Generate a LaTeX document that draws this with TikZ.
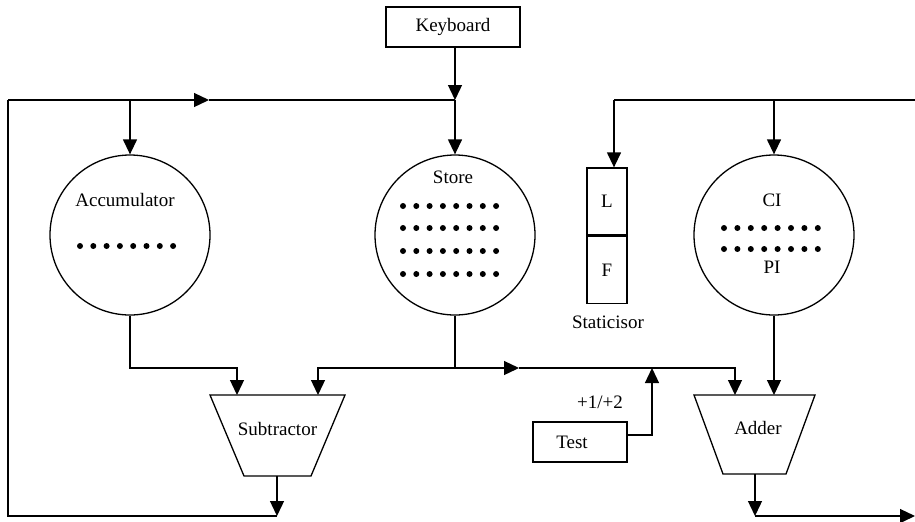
\documentclass[tikz,border=0pt]{standalone}
\usepackage{fontspec}
\setmainfont{Liberation Serif}
\usetikzlibrary{shapes.geometric}
\usetikzlibrary{arrows.meta}
\usetikzlibrary{positioning}

\begin{document}
\begin{tikzpicture}[x=0.5pt,y=-0.5pt,>={Triangle[length=7.5pt,width=7pt]},
	line width=0.65pt,font=\fontsize{9.5}{11}\selectfont,
	unit node/.style={circle,draw,minimum size=80pt,inner sep=0pt},
	box node/.style={rectangle,draw,inner sep=0pt}]
	
	\useasboundingbox (0,0) rectangle (915,521);
	
	% units
	\node[box node,minimum width=67pt,minimum height=20pt] (kbd) at (453,27) {Keyboard};
	\node[unit node] (acc) at (130,235) {};
	\node[unit node] (sto) at (455,235) {};
	\node[unit node] (ci) at (774,235) {};
	\node[box node,minimum width=20pt,minimum height=33.5pt] (statL) at (607,201.5) {L};
	\node[box node,minimum width=20pt,minimum height=33.5pt] (statF) [below=0pt of statL] {F};
	\node[box node,minimum width=47pt,minimum height=20pt] (test) at (580,442) {\hspace*{-8pt}Test};
	
	% subtractor and adder
	\draw (210,395) coordinate (subTL) -- (345,395) coordinate (subTR)
		-- (311,476) coordinate (subBR) -- (244,476) coordinate (subBL) -- cycle;
	\node (sub) at (277.5,429) {Subtractor};
	\draw (694,395) coordinate (addTL) -- (815,395) coordinate (addTR)
		-- (786,474) coordinate (addBR) -- (723,474) coordinate (addBL) -- cycle;
	\node (add) at (758,428) {Adder};
	
	% texts
	\node (accT) at (125,200) {Accumulator};
	\node (stoT) at (453,177) {Store};
	\node (ciT) at (772,200) {CI};
	\node (piT) at (772,267) {PI};
	\node (statT) at (608,322) {Staticisor};
	\node (incT) at (600,402) {+1/+2};
	
	% dots
	\foreach \i in {0,...,7}
		\fill (80+13.3*\i,246) circle (3);
	\foreach \r in {206,228,251,274}
		\foreach \i in {0,...,7}
			\fill (403+13.3*\i,\r) circle (3);
	\foreach \r in {228,249}
		\foreach \i in {0,...,7}
			\fill (724+13.4*\i,\r) circle (3);
	
	% junction points
	\coordinate (jk) at (455,100);
	\coordinate (topL) at (8,100);
	\coordinate (botL) at (8,516);
	\coordinate (markT) at (209,100);
	\coordinate (subOut) at (277,516);
	\coordinate (busM) at (455,368);
	\coordinate (markM) at (519,368);
	\coordinate (subA) at (237,395);
	\coordinate (subB) at (318,395);
	\coordinate (addA) at (735,395);
	\coordinate (tst) at (652,368);
	\coordinate (addOut) at (755,516);
	\coordinate (outR) at (915,516);
	\coordinate (busR) at (915,100);
	\coordinate (statIn) at (614,100);
	
	% connectors
	\draw[->] (kbd.south -| jk) -- (jk);
	\draw[->] (jk) -- (sto.north);
	\draw[->] (acc.north |- jk) -- (acc.north);
	\draw[->] (subOut |- subBL) -- (subOut);
	\draw (subOut) -- (botL) -- (topL);
	\draw[->] (topL) -- (markT);
	\draw (markT) -- (jk);
	\draw[->] (acc.south) |- (subA |- busM) -- (subA);
	\draw (sto.south) -- (busM);
	\draw[->] (busM) -| (subB);
	\draw[->] (busM) -- (markM);
	\draw[->] (markM) -| (addA);
	\draw[->] ([yshift=3.5pt]test.east) -| (tst);
	\draw[->] (ci.south) -- (ci.south |- addA);
	\draw[->] (addOut |- addBL) -- (addOut);
	\draw[->] (addOut) -- (outR);
	\draw (statIn) -- (busR);
	\draw[->] (statIn) -- (statIn |- statL.north);
	\draw[->] (ci.north |- busR) -- (ci.north);
\end{tikzpicture}
\end{document}
